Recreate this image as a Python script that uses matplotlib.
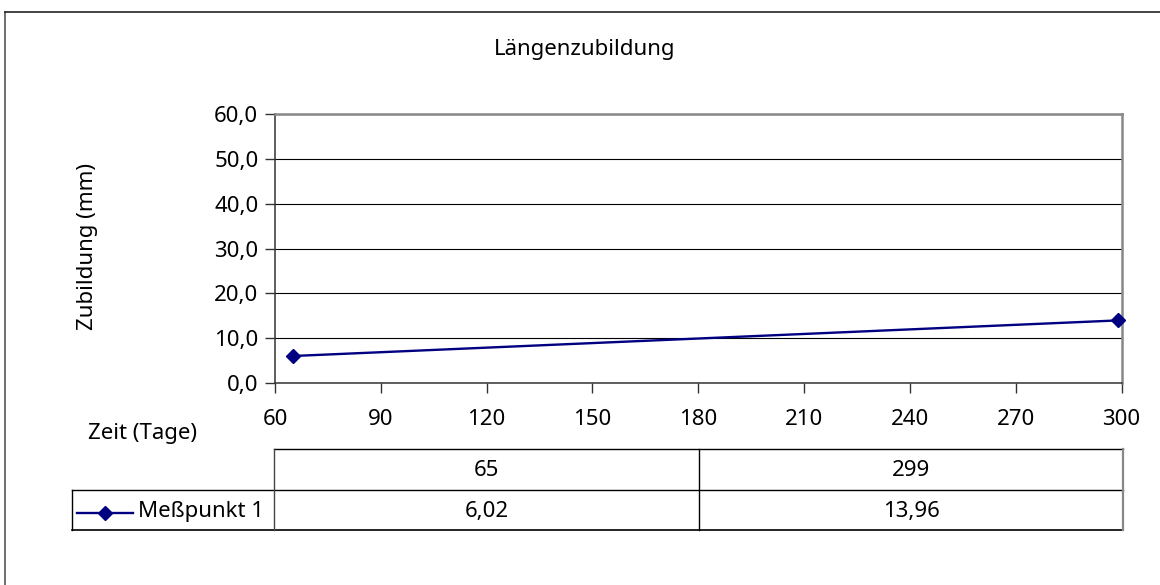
import matplotlib
matplotlib.use("Agg")
import matplotlib.pyplot as plt
from matplotlib.ticker import FuncFormatter, MultipleLocator
from matplotlib.lines import Line2D

plt.rcParams['font.family'] = ['Noto Sans', 'DejaVu Sans']

# data
tage = [65, 299]
messpunkt1 = [6.02, 13.96]
series_name = "Meßpunkt 1"
title = "Längenzubildung"
ylabel = "Zubildung (mm)"
xlabel = "Zeit (Tage)"

W, H = 1160, 585
FS = 16
NAVY = "#000080"

fig = plt.figure(figsize=(W / 100, H / 100), dpi=100)

# overlay in pixel coords for frame, labels and the data table
bg = fig.add_axes([0, 0, 1, 1])
bg.set_xlim(0, W)
bg.set_ylim(H, 0)
bg.axis("off")
bg.plot([5, 5], [12, H], color="#555555", lw=1.2)
bg.plot([5, W], [12, 12], color="#222222", lw=1.2)

# plot area
left, right, top, bottom = 275, 1121.5, 114, 383
ax = fig.add_axes([left / W, 1 - bottom / H, (right - left) / W, (bottom - top) / H])
ax.plot(tage, messpunkt1, color=NAVY, lw=1.7, marker="D", markersize=7.6,
        markerfacecolor=NAVY, markeredgecolor=NAVY, zorder=3, clip_on=False)
ax.set_xlim(60, 300)
ax.set_ylim(0, 60)
ax.xaxis.set_major_locator(MultipleLocator(30))
ax.yaxis.set_major_locator(MultipleLocator(10))
ax.yaxis.set_major_formatter(FuncFormatter(lambda v, p: f"{v:.1f}".replace(".", ",")))
ax.grid(axis="y", color="black", lw=0.8, zorder=0)
ax.tick_params(direction="out", length=7, width=1, color="#333333",
               labelsize=FS, pad=5)
ax.tick_params(axis="x", pad=12)
for s in ("top", "right"):
    ax.spines[s].set_color("#888888")
    ax.spines[s].set_linewidth(1.8)
for s in ("left", "bottom"):
    ax.spines[s].set_color("#333333")
    ax.spines[s].set_linewidth(1.1)

bg.text(585, 49, title, fontsize=FS, ha="center", va="center")
bg.text(87, 246, ylabel, fontsize=FS, ha="center", va="center", rotation=90)
bg.text(142, 433, xlabel, fontsize=FS, ha="center", va="center")

# data table
tx0, tx1, tx2, tx3 = 72, 274, 699, 1123
ty0, ty1, ty2 = 449, 490, 530
lc = "black"
bg.plot([tx1, tx3], [ty0, ty0], color=lc, lw=1)
bg.plot([tx0, tx3], [ty1, ty1], color=lc, lw=1)
bg.plot([tx0, tx3], [ty2, ty2], color=lc, lw=1.2)
bg.plot([tx0, tx0], [ty1, ty2], color=lc, lw=1)
bg.plot([tx1, tx1], [ty0, ty2], color="#444444", lw=1)
bg.plot([tx2, tx2], [ty0, ty2], color=lc, lw=1)
bg.plot([tx3, tx3], [ty0, ty2], color="#888888", lw=1.6)

col_centers = [(tx1 + tx2) / 2, (tx2 + tx3) / 2]
for cx, t, v in zip(col_centers, tage, messpunkt1):
    bg.text(cx, (ty0 + ty1) / 2 + 1, str(t), fontsize=FS, ha="center", va="center")
    bg.text(cx, (ty1 + ty2) / 2 + 1, f"{v:.2f}".replace(".", ","),
            fontsize=FS, ha="center", va="center")

# legend key in the table
ky = (ty1 + ty2) / 2 + 3
bg.add_line(Line2D([77, 133], [ky, ky], color=NAVY, lw=1.7))
bg.add_line(Line2D([105], [ky], marker="D", markersize=7.6, color=NAVY))
bg.text(138, (ty1 + ty2) / 2 + 1, series_name, fontsize=FS, ha="left", va="center")

fig.savefig("out.png", dpi=100)
